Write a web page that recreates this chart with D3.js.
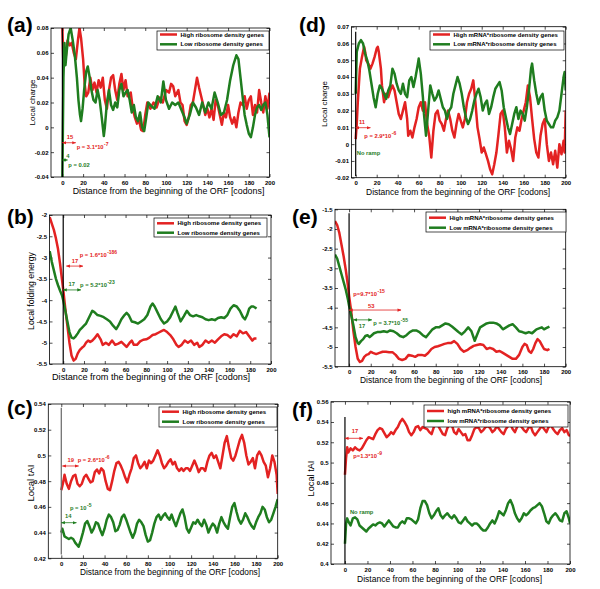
<!DOCTYPE html>
<meta charset="utf-8">
<style>
body { margin: 0; background: #fff; }
svg { display: block; font-family: "Liberation Sans", Arial, sans-serif; }
.axis text { font-size: 6px; font-weight: bold; font-family: "Liberation Sans", Arial, sans-serif; fill: #000; }
.axis line { stroke: #000; stroke-width: 0.7; }
.axis path { display: none; }
.curve { fill: none; stroke-width: 2.5; stroke-linejoin: round; }
.legend text { font-size: 6px; font-weight: bold; }
.note { font-size: 5.8px; font-weight: bold; }
.sup { font-size: 5px; font-weight: bold; }
</style>
<svg width="600" height="589"></svg>
<script src="https://cdn.jsdelivr.net/npm/d3@7"></script>
<script>

var xTicks = d3.range(0, 201, 20);
var red = "#e32222", green = "#1f7d1f";

// (a) local charge, high / low ribosome density
var aHigh = [[0,0.08],[1,0.05],[2,0.062],[3,0.055],[5,0.07],[7,0.066],[9,0.068],[11,0.06],[13,0.055],[15,0.07],[16.5,0.08],[18,0.072],[20,0.055],[21.5,0.035],[23,0.025],[25,0.028],[27,0.04],[29,0.03],[31,0.036],[33,0.028],[35,0.038],[37,0.032],[39,0.04],[41,0.022],[43,0.015],[45,0.03],[47,0.04],[49,0.042],[51,0.03],[53,0.022],[55,0.035],[57,0.043],[59,0.03],[61,0.038],[63,0.025],[66,0.028],[68,0.015],[70,0.008],[72,0.003],[74,0.006],[76,-0.002],[78,-0.003],[80,0.01],[82,0.02],[85,0.015],[88,0.02],[91,0.016],[94,0.024],[97,0.02],[100,0.03],[103,0.028],[105,0.035],[107,0.033],[109,0.025],[112,0.03],[114,0.02],[116,0.018],[118,0.005],[120,0.002],[122,0.008],[124,0.018],[126,0.02],[128,0.03],[130,0.04],[132,0.032],[134,0.025],[136,0.018],[138,0.01],[140,0.015],[142,0.008],[144,0.015],[146,0.006],[148,0.022],[150,0.018],[152,0.01],[154,0.002],[156,0.012],[158,0.008],[160,0.018],[162,0.008],[164,0.003],[166,0.008],[168,0.0],[170,0.012],[172,0.02],[174,0.018],[176,0.025],[178,0.015],[180,0.022],[182,0.025],[184,0.01],[186,0.018],[188,0.012],[190,0.03],[192,0.02],[194,0.012],[196,0.025],[198,0.015],[200,0.028]];
var aLow = [[0,-0.04],[0.5,0.0],[1,0.04],[2,0.068],[3,0.05],[4,0.06],[6,0.075],[8,0.08],[10,0.07],[12,0.058],[14,0.04],[15.5,0.022],[17,0.01],[18,0.005],[19.5,0.015],[21,0.03],[23,0.045],[24.5,0.049],[26,0.042],[28,0.03],[30,0.022],[32,0.02],[34,0.03],[36,0.022],[38,0.008],[40,-0.007],[41,0.0],[43,0.02],[45,0.03],[47,0.018],[49,0.014],[51,0.02],[53,0.016],[55,0.03],[57,0.035],[59,0.025],[61,0.028],[63,0.03],[65,0.022],[67,0.012],[69,0.018],[71,0.008],[73,0.005],[75,0.012],[77,0.0],[79,-0.003],[81,0.008],[83,0.02],[86,0.017],[89,0.015],[92,0.025],[95,0.02],[97.5,0.037],[100,0.022],[103,0.015],[106,0.02],[109,0.018],[112,0.02],[115,0.014],[118,0.008],[120,0.003],[123,0.01],[126,0.02],[129,0.016],[132,0.01],[135,0.02],[138,0.012],[141,0.02],[144,0.015],[147,0.028],[150,0.02],[153,0.01],[156,0.012],[159,0.022],[162,0.038],[165,0.05],[168,0.058],[170,0.055],[172,0.04],[174,0.025],[176,0.01],[178,0.002],[180,-0.005],[182,-0.008],[184,0.0],[186,0.01],[188,0.016],[190,0.018],[192,0.014],[194,0.018],[196,0.02],[198,0.01],[200,-0.008]];

// (d) local charge, high / low mRNA*ribosome density
var dHigh = [[0,0.003],[1,0.012],[2,0.025],[3,0.035],[4,0.045],[6,0.052],[8,0.058],[9,0.055],[10,0.05],[12,0.048],[14,0.045],[16,0.048],[18,0.052],[20,0.057],[21,0.058],[22,0.055],[24,0.045],[25,0.035],[27,0.025],[29,0.03],[31,0.028],[33,0.032],[35,0.035],[37,0.032],[39,0.025],[41,0.018],[43,0.015],[45,0.02],[47,0.025],[49,0.015],[50,0.005],[52,0.008],[54,0.004],[56,0.01],[58,0.015],[60,0.022],[62,0.025],[64,0.02],[66,0.025],[68,0.012],[70,0.005],[72,-0.008],[74,0.008],[76,0.018],[78,0.02],[80,0.014],[82,0.012],[84,0.008],[86,0.015],[88,0.02],[90,0.015],[92,0.008],[94,0.004],[96,0.012],[98,0.018],[100,0.014],[102,0.01],[104,0.015],[106,0.025],[108,0.03],[110,0.033],[112,0.038],[114,0.025],[116,0.01],[118,0.003],[120,-0.005],[122,-0.002],[124,-0.006],[126,-0.01],[128,-0.015],[130,-0.018],[132,-0.012],[134,-0.005],[136,0.006],[138,0.018],[140,0.02],[142,0.01],[144,-0.005],[146,0.002],[148,-0.003],[150,-0.01],[152,0.004],[154,0.01],[156,0.008],[158,0.015],[160,0.02],[162,0.025],[164,0.035],[166,0.028],[168,0.015],[170,0.003],[172,-0.005],[174,-0.008],[176,0.005],[178,0.012],[180,0.015],[182,0.0],[184,-0.01],[186,-0.005],[188,-0.012],[190,-0.004],[192,-0.014],[194,0.0],[196,-0.006],[198,0.002],[199,-0.005],[200,0.02]];
var dLow = [[0,0.03],[1,0.055],[3,0.06],[5,0.062],[7,0.06],[9,0.054],[11,0.05],[13,0.044],[15,0.036],[17,0.028],[19,0.022],[21,0.03],[23,0.035],[25,0.033],[27,0.03],[29,0.027],[31,0.032],[33,0.035],[35,0.045],[37,0.042],[39,0.036],[41,0.032],[43,0.03],[45,0.036],[47,0.03],[49,0.028],[51,0.038],[53,0.04],[55,0.034],[57,0.04],[59,0.047],[60,0.051],[62,0.042],[64,0.028],[65,0.018],[67,0.005],[69,0.02],[71,0.035],[73,0.03],[75,0.026],[77,0.028],[79,0.032],[81,0.027],[83,0.022],[85,0.02],[87,0.015],[89,0.02],[91,0.022],[93,0.03],[95,0.035],[97,0.04],[99,0.036],[101,0.03],[103,0.022],[105,0.016],[107,0.012],[109,0.015],[111,0.02],[113,0.026],[115,0.03],[117,0.033],[119,0.028],[121,0.02],[123,0.024],[125,0.026],[127,0.018],[129,0.022],[131,0.028],[133,0.033],[135,0.035],[137,0.037],[139,0.032],[141,0.022],[143,0.016],[145,0.01],[147,0.006],[149,0.012],[151,0.018],[153,0.022],[155,0.015],[157,0.02],[159,0.018],[161,0.014],[163,0.022],[165,0.032],[167,0.045],[168,0.048],[170,0.038],[172,0.03],[174,0.024],[176,0.028],[178,0.03],[180,0.02],[182,0.014],[184,0.012],[186,0.01],[188,0.01],[190,0.014],[192,0.016],[194,0.02],[196,0.03],[198,0.04],[199,0.043],[200,0.032]];

// (b) local folding energy
var bHigh = [[-13,-2.05],[-11,-2.2],[-9,-2.35],[-7,-2.55],[-5,-2.8],[-3,-3.15],[-1,-3.55],[0,-3.75],[2,-4.2],[4,-4.6],[6,-5.0],[8,-5.3],[10,-5.42],[12,-5.38],[14,-5.25],[16,-5.17],[18,-5.12],[20,-5.08],[22,-5.0],[24,-4.95],[26,-4.98],[28,-4.95],[30,-4.9],[33,-4.8],[36,-4.92],[38,-5.05],[41,-5.0],[44,-5.05],[47,-4.95],[50,-5.05],[53,-5.02],[56,-4.98],[59,-5.05],[61,-5.1],[64,-5.0],[66,-4.95],[68,-5.05],[71,-5.05],[74,-4.97],[77,-4.93],[80,-4.92],[83,-4.88],[86,-4.82],[89,-4.8],[92,-4.76],[95,-4.72],[97,-4.7],[100,-4.75],[103,-4.82],[106,-4.92],[109,-5.05],[111,-5.1],[114,-5.05],[117,-4.95],[120,-5.0],[123,-4.95],[126,-5.05],[129,-5.0],[131,-5.1],[134,-5.05],[137,-4.95],[140,-5.0],[143,-4.95],[146,-5.0],[149,-4.92],[152,-4.85],[155,-4.8],[158,-4.82],[161,-4.88],[164,-4.8],[167,-4.85],[170,-4.72],[173,-4.78],[176,-4.75],[179,-4.85],[182,-4.95],[184,-4.9],[186,-4.9]];
var bLow = [[-13,-2.85],[-11,-3.1],[-9,-3.3],[-7,-3.5],[-5,-3.65],[-3,-3.78],[-1,-3.9],[0,-4.0],[2,-4.25],[4,-4.5],[6,-4.75],[8,-4.88],[10,-4.9],[12,-4.85],[14,-4.78],[16,-4.7],[18,-4.65],[20,-4.6],[22,-4.55],[24,-4.45],[26,-4.35],[28,-4.25],[30,-4.28],[33,-4.35],[36,-4.37],[39,-4.4],[42,-4.45],[45,-4.5],[48,-4.6],[51,-4.68],[53,-4.6],[56,-4.45],[59,-4.35],[61,-4.3],[63,-4.35],[66,-4.5],[69,-4.52],[72,-4.55],[75,-4.5],[78,-4.45],[81,-4.35],[84,-4.15],[86,-4.08],[88,-4.15],[91,-4.3],[94,-4.45],[97,-4.55],[100,-4.5],[103,-4.4],[106,-4.25],[108,-4.15],[110,-4.3],[113,-4.5],[116,-4.38],[119,-4.25],[122,-4.35],[125,-4.38],[128,-4.35],[131,-4.38],[134,-4.4],[137,-4.45],[140,-4.47],[143,-4.45],[146,-4.47],[149,-4.42],[152,-4.4],[155,-4.42],[158,-4.35],[161,-4.2],[164,-4.12],[167,-4.15],[170,-4.25],[173,-4.4],[175,-4.45],[177,-4.35],[179,-4.2],[181,-4.15],[183,-4.15],[185,-4.18],[186,-4.2]];

// (e) local folding energy, mRNA*ribosome density
var eHigh = [[-13,-1.8],[-11,-1.9],[-9,-2.1],[-7,-2.4],[-5,-2.7],[-3,-3.05],[-1,-3.45],[0,-3.7],[2,-4.1],[4,-4.6],[6,-5.0],[8,-5.3],[10,-5.38],[12,-5.35],[14,-5.25],[16,-5.2],[18,-5.18],[20,-5.12],[22,-5.15],[25,-5.18],[28,-5.15],[31,-5.12],[34,-5.12],[37,-5.13],[40,-5.13],[43,-5.2],[46,-5.3],[49,-5.33],[52,-5.3],[55,-5.2],[58,-5.22],[61,-5.25],[64,-5.2],[67,-5.2],[70,-5.22],[73,-5.15],[76,-5.05],[79,-5.0],[82,-4.98],[85,-4.95],[88,-4.92],[91,-4.9],[94,-4.9],[97,-4.85],[100,-4.92],[103,-5.05],[106,-5.12],[109,-5.08],[112,-5.02],[115,-4.97],[118,-4.95],[121,-4.93],[124,-4.95],[127,-5.05],[130,-5.02],[133,-5.05],[136,-5.12],[139,-5.1],[142,-5.15],[145,-5.2],[148,-5.25],[151,-5.3],[154,-5.3],[157,-5.2],[160,-5.0],[162,-4.92],[164,-4.95],[166,-5.1],[168,-5.15],[170,-5.05],[172,-4.9],[174,-4.8],[176,-4.85],[178,-4.95],[180,-5.05],[183,-5.08],[185,-5.05]];
var eLow = [[-13,-2.65],[-11,-2.75],[-9,-2.95],[-7,-3.15],[-5,-3.35],[-3,-3.55],[-1,-3.8],[0,-3.95],[2,-4.2],[4,-4.45],[6,-4.75],[8,-4.9],[9,-4.92],[11,-4.85],[13,-4.8],[15,-4.72],[17,-4.7],[19,-4.75],[21,-4.7],[23,-4.65],[26,-4.62],[29,-4.62],[32,-4.6],[35,-4.62],[38,-4.58],[41,-4.6],[44,-4.65],[47,-4.72],[50,-4.75],[53,-4.7],[56,-4.62],[59,-4.58],[62,-4.58],[65,-4.62],[68,-4.7],[71,-4.75],[74,-4.65],[77,-4.55],[80,-4.5],[83,-4.5],[86,-4.45],[89,-4.4],[92,-4.42],[95,-4.48],[98,-4.55],[101,-4.62],[104,-4.68],[107,-4.6],[110,-4.5],[113,-4.6],[116,-4.84],[118,-4.7],[121,-4.5],[124,-4.45],[127,-4.4],[130,-4.38],[133,-4.38],[136,-4.4],[139,-4.45],[142,-4.55],[145,-4.5],[148,-4.45],[151,-4.42],[154,-4.5],[157,-4.6],[160,-4.62],[163,-4.65],[166,-4.62],[169,-4.65],[171,-4.6],[173,-4.55],[176,-4.52],[178,-4.5],[180,-4.55],[182,-4.52],[185,-4.48]];

// (c) local tAI
var cHigh = [[0,0.473],[2,0.48],[3,0.485],[5,0.478],[7,0.474],[9,0.48],[11,0.484],[13,0.485],[15,0.478],[17,0.476],[19,0.478],[21,0.483],[23,0.485],[25,0.482],[27,0.479],[29,0.48],[31,0.487],[33,0.489],[35,0.486],[37,0.49],[39,0.488],[41,0.48],[43,0.474],[45,0.473],[47,0.48],[49,0.488],[51,0.494],[53,0.495],[55,0.492],[57,0.488],[59,0.483],[61,0.479],[63,0.485],[65,0.49],[67,0.498],[69,0.5],[71,0.494],[73,0.49],[75,0.492],[77,0.495],[79,0.49],[81,0.496],[83,0.494],[85,0.496],[87,0.5],[89,0.504],[91,0.5],[93,0.494],[95,0.49],[97,0.492],[99,0.495],[101,0.497],[103,0.493],[105,0.495],[107,0.49],[109,0.488],[111,0.49],[113,0.488],[115,0.49],[117,0.49],[119,0.488],[121,0.492],[123,0.496],[125,0.492],[127,0.487],[129,0.49],[131,0.49],[133,0.488],[135,0.495],[137,0.5],[139,0.502],[141,0.498],[143,0.5],[145,0.495],[147,0.49],[149,0.5],[151,0.51],[153,0.515],[155,0.506],[157,0.498],[159,0.496],[161,0.5],[163,0.506],[165,0.512],[167,0.516],[169,0.51],[171,0.5],[173,0.493],[175,0.495],[177,0.498],[179,0.49],[181,0.5],[183,0.503],[185,0.5],[187,0.495],[189,0.492],[191,0.483],[193,0.49],[195,0.5],[197,0.495],[199,0.485],[200,0.47]];
var cLow = [[0,0.44],[1,0.443],[3,0.437],[5,0.436],[7,0.435],[9,0.436],[11,0.435],[13,0.432],[15,0.43],[16,0.429],[18,0.434],[20,0.44],[22,0.447],[24,0.449],[26,0.445],[28,0.44],[30,0.443],[32,0.448],[34,0.447],[36,0.442],[38,0.438],[40,0.443],[42,0.45],[44,0.454],[46,0.452],[48,0.448],[50,0.441],[52,0.442],[54,0.446],[56,0.452],[58,0.454],[60,0.45],[62,0.445],[64,0.44],[66,0.436],[68,0.44],[70,0.447],[72,0.45],[74,0.448],[76,0.445],[78,0.438],[80,0.433],[82,0.434],[84,0.44],[86,0.447],[88,0.452],[90,0.454],[92,0.45],[94,0.453],[96,0.455],[98,0.452],[100,0.45],[102,0.454],[104,0.449],[106,0.445],[108,0.45],[110,0.455],[112,0.458],[114,0.452],[116,0.443],[118,0.44],[120,0.444],[122,0.448],[124,0.447],[126,0.45],[128,0.447],[130,0.445],[132,0.45],[134,0.446],[136,0.44],[138,0.444],[140,0.447],[142,0.445],[144,0.44],[146,0.447],[148,0.452],[150,0.448],[152,0.445],[154,0.443],[156,0.452],[158,0.46],[160,0.463],[162,0.456],[164,0.45],[166,0.447],[168,0.45],[170,0.455],[172,0.452],[174,0.448],[176,0.445],[178,0.443],[180,0.448],[182,0.452],[184,0.455],[186,0.46],[188,0.458],[190,0.452],[192,0.448],[194,0.45],[196,0.455],[198,0.46],[200,0.466]];

// (f) local tAI, mRNA*ribosome density
var fHigh = [[0,0.488],[1,0.505],[2,0.515],[3,0.51],[5,0.514],[7,0.512],[9,0.515],[11,0.513],[13,0.512],[15,0.514],[17,0.518],[19,0.522],[21,0.525],[23,0.524],[25,0.523],[27,0.528],[29,0.532],[31,0.534],[33,0.533],[35,0.529],[37,0.525],[39,0.527],[41,0.53],[43,0.528],[45,0.532],[47,0.535],[49,0.54],[51,0.543],[53,0.54],[55,0.536],[57,0.53],[59,0.527],[61,0.53],[63,0.535],[65,0.536],[67,0.532],[69,0.535],[71,0.534],[73,0.533],[75,0.53],[77,0.528],[79,0.535],[81,0.538],[83,0.536],[85,0.532],[87,0.528],[89,0.527],[91,0.534],[93,0.538],[95,0.537],[97,0.53],[99,0.528],[101,0.533],[103,0.53],[105,0.527],[107,0.528],[109,0.522],[111,0.522],[113,0.527],[115,0.533],[117,0.535],[119,0.534],[121,0.53],[123,0.532],[125,0.535],[127,0.536],[129,0.534],[131,0.53],[133,0.532],[135,0.536],[137,0.533],[139,0.53],[141,0.528],[143,0.533],[145,0.536],[147,0.538],[149,0.533],[151,0.53],[153,0.535],[155,0.538],[157,0.535],[159,0.532],[161,0.53],[163,0.534],[165,0.536],[167,0.53],[169,0.527],[171,0.53],[173,0.533],[175,0.536],[177,0.533],[179,0.53],[181,0.535],[183,0.537],[185,0.533],[187,0.53],[189,0.528],[191,0.532],[193,0.534],[195,0.53],[197,0.532],[199,0.527],[200,0.526]];
var fLow = [[0,0.42],[1,0.44],[2,0.445],[3,0.442],[5,0.438],[7,0.445],[9,0.446],[11,0.444],[13,0.438],[15,0.436],[17,0.434],[19,0.432],[21,0.435],[23,0.437],[25,0.439],[27,0.438],[29,0.44],[31,0.441],[33,0.44],[35,0.437],[37,0.44],[39,0.443],[41,0.44],[43,0.437],[45,0.436],[47,0.436],[49,0.44],[51,0.442],[53,0.44],[55,0.445],[57,0.445],[59,0.444],[61,0.442],[63,0.44],[65,0.444],[67,0.455],[69,0.462],[71,0.462],[73,0.458],[75,0.45],[77,0.445],[79,0.448],[81,0.452],[83,0.455],[85,0.448],[87,0.445],[89,0.448],[91,0.45],[93,0.447],[95,0.445],[97,0.448],[99,0.445],[101,0.441],[103,0.44],[105,0.443],[107,0.446],[109,0.442],[111,0.44],[113,0.438],[115,0.44],[117,0.44],[119,0.438],[121,0.435],[123,0.433],[125,0.433],[127,0.436],[129,0.44],[131,0.443],[133,0.44],[135,0.445],[137,0.452],[139,0.45],[141,0.448],[143,0.453],[145,0.46],[147,0.463],[149,0.458],[151,0.45],[153,0.445],[155,0.442],[157,0.445],[159,0.45],[161,0.448],[163,0.45],[165,0.453],[167,0.455],[169,0.456],[171,0.458],[173,0.46],[175,0.457],[177,0.45],[179,0.442],[181,0.44],[183,0.445],[185,0.448],[187,0.45],[189,0.447],[191,0.443],[193,0.442],[195,0.45],[197,0.452],[199,0.445],[200,0.44]];

// annotation texts (data coords) and ramp arrows
var aNotes = [{t:"15", x:7.3, y:-0.009, c:red, mid:1}, {t:"p = 3.1*10", x:13.8, y:-0.0174, c:red, sup:"-7"},
              {t:"4", x:5.4, y:-0.025, c:green, mid:1}, {t:"p = 0.02", x:5.7, y:-0.0322, c:green}];
var aArrows = [{x0:0, x1:13, y:-0.0124, c:red}, {x0:0, x1:5, y:-0.0263, c:green}];
var dNotes = [{t:"11", x:6, y:0.012, c:red, mid:1}, {t:"p = 2.9*10", x:8.2, y:0.0038, c:red, sup:"-6"},
              {t:"No ramp", x:1, y:-0.0065, c:green}];
var dArrows = [{x0:0, x1:14, y:0.0098, c:red}];
var bNotes = [{t:"p = 1.6*10", x:15.9, y:-2.98, c:red, sup:"-186"}, {t:"17", x:11.4, y:-3.13, c:red, mid:1},
              {t:"17", x:8.3, y:-3.67, c:green, mid:1}, {t:"p = 5.2*10", x:16.2, y:-3.68, c:green, sup:"-23"}];
var bArrows = [{x0:3, x1:19, y:-3.2, c:red}, {x0:0, x1:17, y:-3.76, c:green}];
var eNotes = [{t:"p=9.7*10", x:3.9, y:-3.7, c:red, sup:"-15"}, {t:"53", x:20.5, y:-4.02, c:red, mid:1},
              {t:"17", x:11.9, y:-4.52, c:green, mid:1}, {t:"p = 3.7*10", x:22.4, y:-4.44, c:green, sup:"-55"}];
var eArrows = [{x0:0, x1:48, y:-4.06, c:red}, {x0:4, x1:21, y:-4.31, c:green}];
var cNotes = [{t:"19", x:8.7, y:0.4951, c:red, mid:1}, {t:"p = 2.6*10", x:15.2, y:0.495, c:red, sup:"-6"},
              {t:"p = 10", x:8, y:0.4576, c:green, sup:"-5"}, {t:"14", x:6.5, y:0.4516, c:green, mid:1}];
var cArrows = [{x0:1, x1:16, y:0.4918, c:red}, {x0:0, x1:14, y:0.4477, c:green}];
var fNotes = [{t:"17", x:8.9, y:0.5288, c:red, mid:1}, {t:"p=1.3*10", x:7.4, y:0.5042, c:red, sup:"-9"},
              {t:"No ramp", x:4.4, y:0.4493, c:green}];
var fArrows = [{x0:0, x1:16, y:0.5239, c:red}];

var ribo = ["High ribosome density genes", "Low ribosome density genes"];
var mrna = ["High mRNA*ribosome density genes", "Low mRNA*ribosome density genes"];
var mrnaLower = ["high mRNA*ribosome density genes", "low mRNA*ribosome density genes"];
var xTitle = "Distance from the beginning of the ORF [codons]";

var panels = [
  {id:"a", label:"(a)", lab:[7,32], box:[51,269.5,28,177], xlim:[-11,200], ylim:[-0.04,0.08],
   yTicks:d3.range(-0.04,0.081,0.02), ytitle:"Local charge", yt:[34.5,102.5,8], xt:[168.5,194,191.7],
   high:aHigh, low:aLow, notes:aNotes, arrows:aArrows, zero:[-0.04,0.08], zc:"#000",
   leg:{x:157,y:31,w:112,h:19,r:[34.5,44.3],names:ribo}},
  {id:"d", label:"(d)", lab:[299,32], box:[351.5,565.7,26.7,177.7], xlim:[-4,200], ylim:[-0.02,0.07],
   yTicks:d3.range(-0.02,0.071,0.01), ytitle:"Local charge", yt:[327,104,8], xt:[458,195,184],
   high:dHigh, low:dLow, notes:dNotes, arrows:dArrows, zero:[-0.019,0.067], zc:"#000",
   leg:{x:430,y:31,w:134,h:19,r:[34.5,44.3],names:mrna}},
  {id:"b", label:"(b)", lab:[7,224], box:[49.5,271,215,364], xlim:[-13.2,200], ylim:[-5.5,-2],
   yTicks:d3.range(-5.5,-1.99,0.5), ytitle:"Local folding energy", yt:[34.2,291,8.7], xt:[151,380,198],
   high:bHigh, low:bLow, notes:bNotes, arrows:bArrows, zero:[-5.5,-2], zc:"#000",
   leg:{x:154,y:218,w:113,h:19,r:[223.3,232.7],names:ribo}},
  {id:"e", label:"(e)", lab:[292,224], box:[335,565.7,209.3,366.7], xlim:[-13,200], ylim:[-5.5,-1.5],
   yTicks:d3.range(-5.5,-1.49,0.5), ytitle:null, xt:[451,383,182],
   high:eHigh, low:eLow, notes:eNotes, arrows:eArrows, zero:[-5.5,-1.6], zc:"#000",
   leg:{x:426,y:212,w:140,h:20,r:[217.7,227.7],names:mrna}},
  {id:"c", label:"(c)", lab:[7,415], box:[48.3,277.7,404,558.3], xlim:[-12,200], ylim:[0.42,0.54],
   yTicks:d3.range(0.42,0.541,0.02), ytitle:"Local tAI", yt:[34,483,9.5], xt:[170,575,180],
   high:cHigh, low:cLow, notes:cNotes, arrows:cArrows, zero:[0.423,0.537], zc:"#666",
   leg:{x:159,y:407,w:118,h:20,r:[411.7,421.7],names:ribo}},
  {id:"f", label:"(f)", lab:[292,417], box:[331,570,401.7,564], xlim:[-12.4,200], ylim:[0.4,0.56],
   yTicks:d3.range(0.4,0.561,0.02), ytitle:"Local tAI", yt:[314,478.5,9.2], xt:[449.5,582,185],
   high:fHigh, low:fLow, notes:fNotes, arrows:fArrows, zero:[0.4,0.545], zc:"#000",
   leg:{x:424,y:405,w:144,h:22,r:[411,421],names:mrnaLower}}
];

var svg = d3.select("svg");
var fmt = function(v) { return String(+v.toFixed(4)); };

var defs = svg.append("defs");
[["r", red], ["g", green]].forEach(function(m) {
  defs.append("marker")
      .attr("id", "head-" + m[0])
      .attr("viewBox", "0 0 10 10")
      .attr("refX", 9).attr("refY", 5)
      .attr("markerWidth", 4).attr("markerHeight", 4)
      .attr("markerUnits", "userSpaceOnUse")
      .attr("orient", "auto-start-reverse")
    .append("path")
      .attr("d", "M0,1L10,5L0,9z")
      .attr("fill", m[1]);
});

panels.forEach(function(p) {
  var x = d3.scaleLinear().domain(p.xlim).range([p.box[0], p.box[1]]),
      y = d3.scaleLinear().domain(p.ylim).range([p.box[3], p.box[2]]),
      g = svg.append("g").attr("class", "panel panel-" + p.id);

  defs.append("clipPath").attr("id", "clip-" + p.id)
    .append("rect")
      .attr("x", p.box[0]).attr("y", p.box[2])
      .attr("width", p.box[1] - p.box[0]).attr("height", p.box[3] - p.box[2]);

  g.append("g").attr("class", "axis")
      .attr("transform", "translate(0," + p.box[3] + ")")
      .call(d3.axisBottom(x).tickValues(xTicks).tickFormat(fmt).tickSizeInner(-3).tickSizeOuter(0).tickPadding(3.5));
  g.append("g").attr("class", "axis")
      .attr("transform", "translate(0," + p.box[2] + ")")
      .call(d3.axisTop(x).tickValues(xTicks).tickFormat("").tickSizeInner(-3).tickSizeOuter(0));
  g.append("g").attr("class", "axis")
      .attr("transform", "translate(" + p.box[0] + ",0)")
      .call(d3.axisLeft(y).tickValues(p.yTicks).tickFormat(fmt).tickSizeInner(-3).tickSizeOuter(0).tickPadding(2.5));
  g.append("g").attr("class", "axis")
      .attr("transform", "translate(" + p.box[1] + ",0)")
      .call(d3.axisRight(y).tickValues(p.yTicks).tickFormat("").tickSizeInner(-3).tickSizeOuter(0));

  var line = d3.line()
      .x(function(d) { return x(d[0]); })
      .y(function(d) { return y(d[1]); });

  var plot = g.append("g").attr("clip-path", "url(#clip-" + p.id + ")");
  plot.append("path").attr("class", "curve").attr("stroke", red).attr("d", line(p.high));
  plot.append("path").attr("class", "curve").attr("stroke", green).attr("d", line(p.low));

  // start codon marker
  g.append("line")
      .attr("x1", x(0)).attr("x2", x(0))
      .attr("y1", y(p.zero[0])).attr("y2", y(p.zero[1]))
      .attr("stroke", p.zc).attr("stroke-width", 1.2);

  g.append("rect")
      .attr("x", p.box[0]).attr("y", p.box[2])
      .attr("width", p.box[1] - p.box[0]).attr("height", p.box[3] - p.box[2])
      .attr("fill", "none").attr("stroke", "#000").attr("stroke-width", 0.8);

  p.arrows.forEach(function(a) {
    var mk = a.c === red ? "r" : "g";
    g.append("line")
        .attr("x1", x(a.x0)).attr("x2", x(a.x1))
        .attr("y1", y(a.y)).attr("y2", y(a.y))
        .attr("stroke", a.c).attr("stroke-width", 0.8)
        .attr("marker-start", "url(#head-" + mk + ")")
        .attr("marker-end", "url(#head-" + mk + ")");
  });

  p.notes.forEach(function(n) {
    var t = g.append("text")
        .attr("class", "note")
        .attr("x", x(n.x)).attr("y", y(n.y))
        .attr("fill", n.c)
        .attr("text-anchor", n.mid ? "middle" : "start")
        .text(n.t);
    if (n.sup) {
      var w = t.node().getComputedTextLength();
      g.append("text")
          .attr("class", "sup")
          .attr("x", x(n.x) + w + 0.5).attr("y", y(n.y) - 3)
          .attr("fill", n.c)
          .text(n.sup);
    }
  });

  // legend
  var L = p.leg, lg = g.append("g").attr("class", "legend");
  lg.append("rect")
      .attr("x", L.x).attr("y", L.y).attr("width", L.w).attr("height", L.h)
      .attr("fill", "#fff").attr("stroke", "#000").attr("stroke-width", 0.7);
  [red, green].forEach(function(c, i) {
    lg.append("line")
        .attr("x1", L.x + 3).attr("x2", L.x + 20)
        .attr("y1", L.r[i]).attr("y2", L.r[i])
        .attr("stroke", c).attr("stroke-width", 2.5);
    lg.append("text")
        .attr("x", L.x + 23.5).attr("y", L.r[i] + 2.1)
        .text(L.names[i]);
  });

  // titles
  g.append("text")
      .attr("x", p.xt[0]).attr("y", p.xt[1])
      .attr("text-anchor", "middle")
      .attr("textLength", p.xt[2]).attr("lengthAdjust", "spacingAndGlyphs")
      .style("font-size", "8.8px")
      .text(xTitle);
  if (p.ytitle) {
    g.append("text")
        .attr("transform", "translate(" + p.yt[0] + "," + p.yt[1] + ") rotate(-90)")
        .attr("text-anchor", "middle")
        .style("font-size", p.yt[2] + "px")
        .text(p.ytitle);
  }
  g.append("text")
      .attr("x", p.lab[0]).attr("y", p.lab[1])
      .style("font-size", "21px").style("font-weight", "bold")
      .text(p.label);
});

</script>
